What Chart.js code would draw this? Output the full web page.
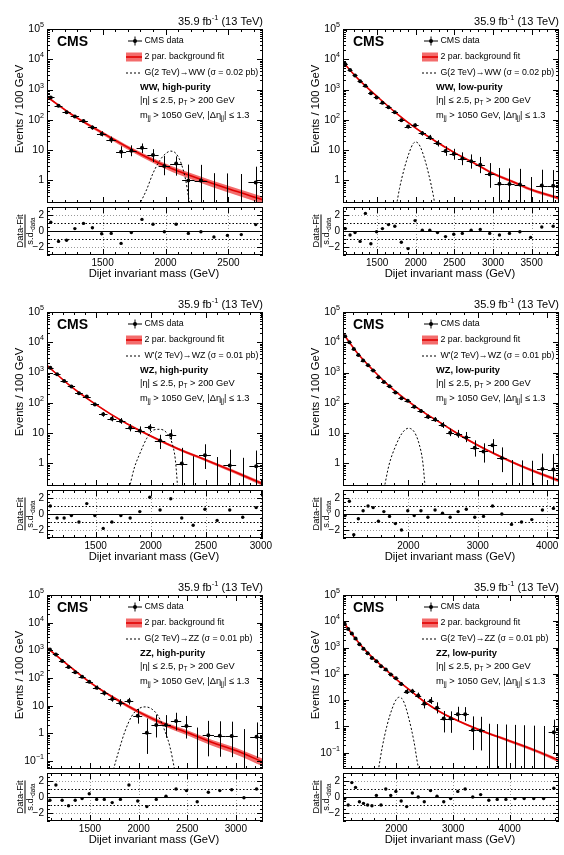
<!DOCTYPE html>
<html>
<head>
<meta charset="utf-8">
<script src="https://cdn.jsdelivr.net/npm/chart.js@4.4.1/dist/chart.umd.min.js"></script>
<style>
  html, body { margin: 0; padding: 0; background: #fff; }
  #page { position: relative; width: 564px; height: 855px; overflow: hidden; background: #fff; }
  #page canvas { position: absolute; }
</style>
</head>
<body>
<div id="page"></div>
<script>
// --- DATA (dijet bins, events / 100 GeV) ---
const binEdges = [1058, 1118, 1181, 1246, 1313, 1383, 1455, 1530, 1607, 1687, 1770, 1856, 1945, 2037, 2132, 2231,
  2332, 2438, 2546, 2659, 2775, 2895, 3019, 3147, 3279, 3416, 3558, 3704, 3854, 4010, 4171, 4337, 4509, 4686, 4869];

// WW, high-purity
const wwhpData = [550, 290, 177, 130, 91, 56, 34, 22, 8.8, 9.5, 12, 6.9, 3.0, 3.6, 1.0, 0.99, 0, 0, 0, 0.86];
const wwhpResid = [1.1, -1.3, -1.15, 0.3, 0.95, 0.4, -0.35, -0.3, -1.55, -0.2, 1.45, 0.85, -0.1, 0.85, -0.3, -0.1, -0.75, -0.55, -0.45, 0.8];
const wwhpFitX = [1058, 1250, 1500, 1750, 2000, 2250, 2500, 2775];
const wwhpFitY = [580, 155, 37, 9.6, 3.0, 1.2, 0.53, 0.23];
const wwhpUnc = [0.08, 0.08, 0.12, 0.16, 0.2, 0.23, 0.25, 0.27];
const wwhpSigX = [1790, 1850, 1900, 1955, 2000, 2040, 2085, 2125, 2160, 2182, 2200];
const wwhpSigY = [0.15, 0.5, 1.7, 4.6, 7.6, 9.3, 7.6, 3.6, 1.05, 0.3, 0.1];

// WW, low-purity
const wwlpData = [6800, 4470, 2940, 1870, 1350, 750, 550, 370, 262, 180, 98, 60, 67, 36, 26, 17, 9.4, 7.4, 5.3, 4.3,
  3.3, 1.6, 0.78, 0.76, 0.73, 0, 0.68, 0.67];
const wwlpResid = [0.3, -0.5, -0.2, -1.3, 2.2, -1.6, -0.1, 0.3, 0.8, 0.6, -1.4, -2.2, 1.3, 0.1, 0.1, -0.2, -0.7, -0.4, -0.3, 0.1,
  0.2, -0.3, -0.5, -0.3, -0.1, -0.8, 0.5, 0.6];
const wwlpFitX = [1058, 1250, 1500, 1750, 2000, 2250, 2500, 2750, 3000, 3250, 3500, 3854];
const wwlpFitY = [8100, 2300, 590, 165, 53, 20, 8.3, 3.8, 1.7, 0.92, 0.49, 0.26];
const wwlpUnc = [0.03, 0.03, 0.03, 0.04, 0.05, 0.06, 0.07, 0.08, 0.09, 0.1, 0.11, 0.13];
const wwlpSigX = [1750, 1790, 1850, 1915, 1970, 2005, 2055, 2115, 2170, 2225, 2255];
const wwlpSigY = [0.15, 0.55, 2.4, 8.3, 17, 18.5, 13.5, 5.1, 1.5, 0.34, 0.12];

// WZ, high-purity
const wzhpData = [1450, 880, 530, 350, 208, 162, 89, 42, 30, 25, 15, 12, 15.5, 5.7, 8.7, 0.99, 0, 1.85, 0, 0.86, 0, 0.81];
const wzhpResid = [1.0, -0.5, -0.5, -0.2, -1.0, 1.3, -0.2, -1.8, -1.0, -0.2, -0.5, 0.3, 2.1, 0.5, 1.9, -0.5, -1.4, 0.6, -0.8, 0.5, -0.4, 0.8];
const wzhpFitX = [1058, 1250, 1500, 1750, 2000, 2250, 2500, 2750, 3019];
const wzhpFitY = [1730, 415, 89, 24, 8.0, 3.0, 1.3, 0.55, 0.21];
const wzhpUnc = [0.04, 0.04, 0.05, 0.06, 0.08, 0.09, 0.1, 0.12, 0.14];
const wzhpSigX = [1805, 1850, 1903, 1964, 2025, 2086, 2147, 2193, 2223, 2245];
const wzhpSigY = [0.15, 0.7, 2.2, 6.8, 12.7, 13.4, 10, 4.7, 1.35, 0.15];

// WZ, low-purity
const wzlpData = [15800, 10000, 6000, 3800, 2500, 1740, 1180, 700, 490, 355, 222, 143, 118, 74, 54, 35, 28, 18.5, 10.3, 9.1,
  7.2, 3.3, 2.5, 4.0, 1.5, 0, 0, 0, 0.65, 0.63];
const wzlpResid = [-0.2, 1.6, -2.6, -0.6, 0.4, 1.0, 0.8, -0.9, 0.3, -0.3, -1.2, -2.0, 0.4, -0.2, 0.4, -0.4, 0.5, 0.1, -0.4, 0.3,
  0.6, -0.4, -0.3, 1.0, 0.0, -1.3, -1.0, -0.7, 0.5, 0.7];
const wzlpFitX = [1058, 1250, 1500, 1750, 2000, 2250, 2500, 2750, 3000, 3250, 3500, 3750, 4171];
const wzlpFitY = [20000, 4900, 1150, 320, 112, 44, 19.5, 8.4, 4.0, 2.04, 1.1, 0.63, 0.27];
const wzlpUnc = [0.02, 0.02, 0.03, 0.03, 0.04, 0.05, 0.06, 0.07, 0.08, 0.09, 0.1, 0.11, 0.13];
const wzlpSigX = [1651, 1720, 1815, 1910, 2000, 2080, 2150, 2208, 2243];
const wzlpSigY = [0.15, 0.87, 3.7, 10, 14.5, 11.4, 4.8, 1.1, 0.15];

// ZZ, high-purity
const zzhpData = [1070, 710, 410, 250, 163, 112, 74, 45, 29, 17.5, 12.6, 15, 4.4, 1.05, 2.0, 2.0, 2.8, 1.85, 0, 0.86,
  0.83, 0.81, 0, 0.76];
const zzhpResid = [-0.4, 1.5, -0.4, -1.1, -0.4, -0.2, 0.4, -0.3, -0.3, -0.7, -0.3, 1.5, -0.5, -1.2, -0.3, 0.1, 1.0, 0.8, -0.6, 0.6,
  0.8, 0.9, -0.1, 1.0];
const zzhpFitX = [1058, 1250, 1500, 1750, 2000, 2250, 2500, 2750, 3000, 3279];
const zzhpFitY = [1250, 345, 70, 19, 6.0, 2.3, 1.08, 0.48, 0.24, 0.093];
const zzhpUnc = [0.06, 0.06, 0.08, 0.11, 0.14, 0.18, 0.21, 0.24, 0.27, 0.3];
const zzhpSigX = [1741, 1792, 1860, 1929, 1997, 2066, 2134, 2202, 2271, 2323, 2370];
const zzhpSigY = [0.05, 0.21, 1.2, 4.2, 7.7, 9.1, 7.7, 4.2, 1.2, 0.32, 0.05];

// ZZ, low-purity
const zzlpData = [7900, 5100, 3400, 2200, 1350, 910, 610, 400, 300, 195, 146, 95, 68, 41, 21, 22, 15, 7.3, 9.3, 5.1,
  2.0, 2.0, 2.9, 2.9, 0.73, 0.7, 0, 0, 0, 0, 0, 0, 0, 0.6];
const zzlpResid = [-0.2, -1.0, 1.8, 1.2, -0.6, -0.8, -1.0, -1.1, 0.2, -1.0, 1.0, 0.2, 0.7, -0.5, -1.2, 0.5, 0.0, -0.6, 0.8, 0.1,
  -0.6, -0.2, 0.7, 1.0, 0.0, 0.3, -0.4, -0.3, -0.3, -0.2, -0.2, -0.2, -0.2, 1.1];
const zzlpFitX = [1058, 1250, 1500, 1750, 2000, 2250, 2500, 2750, 3000, 3500, 4000, 4500, 4869];
const zzlpFitY = [10000, 2600, 615, 195, 62, 23, 8.5, 3.8, 2.0, 0.69, 0.28, 0.11, 0.05];
const zzlpUnc = [0.02, 0.02, 0.03, 0.03, 0.04, 0.05, 0.06, 0.07, 0.08, 0.1, 0.12, 0.14, 0.16];
const zzlpSigX = [1679, 1750, 1838, 1926, 1997, 2056, 2132, 2220, 2308, 2384, 2424];
const zzlpSigY = [0.02, 0.16, 1.15, 4.8, 10.6, 13, 8.5, 2.0, 0.28, 0.03, 0.015];

const panels = [
  { col: 0, row: 0, cat: 'WW, high-purity', sig: 'G(2 TeV)\u2192WW (\u03c3 = 0.02 pb)', data: wwhpData, resid: wwhpResid,
    fitX: wwhpFitX, fitY: wwhpFitY, unc: wwhpUnc, sigX: wwhpSigX, sigY: wwhpSigY, xMax: 2775, yMin: 0.18, xLabels: [1500, 2000, 2500], xMinor: 100 },
  { col: 1, row: 0, cat: 'WW, low-purity', sig: 'G(2 TeV)\u2192WW (\u03c3 = 0.02 pb)', data: wwlpData, resid: wwlpResid,
    fitX: wwlpFitX, fitY: wwlpFitY, unc: wwlpUnc, sigX: wwlpSigX, sigY: wwlpSigY, xMax: 3854, yMin: 0.18, xLabels: [1500, 2000, 2500, 3000, 3500], xMinor: 100 },
  { col: 0, row: 1, cat: 'WZ, high-purity', sig: "W'(2 TeV)\u2192WZ (\u03c3 = 0.01 pb)", data: wzhpData, resid: wzhpResid,
    fitX: wzhpFitX, fitY: wzhpFitY, unc: wzhpUnc, sigX: wzhpSigX, sigY: wzhpSigY, xMax: 3019, yMin: 0.18, xLabels: [1500, 2000, 2500, 3000], xMinor: 100 },
  { col: 1, row: 1, cat: 'WZ, low-purity', sig: "W'(2 TeV)\u2192WZ (\u03c3 = 0.01 pb)", data: wzlpData, resid: wzlpResid,
    fitX: wzlpFitX, fitY: wzlpFitY, unc: wzlpUnc, sigX: wzlpSigX, sigY: wzlpSigY, xMax: 4171, yMin: 0.18, xLabels: [2000, 3000, 4000], xMinor: 200 },
  { col: 0, row: 2, cat: 'ZZ, high-purity', sig: 'G(2 TeV)\u2192ZZ (\u03c3 = 0.01 pb)', data: zzhpData, resid: zzhpResid,
    fitX: zzhpFitX, fitY: zzhpFitY, unc: zzhpUnc, sigX: zzhpSigX, sigY: zzhpSigY, xMax: 3279, yMin: 0.052, xLabels: [1500, 2000, 2500, 3000], xMinor: 100 },
  { col: 1, row: 2, cat: 'ZZ, low-purity', sig: 'G(2 TeV)\u2192ZZ (\u03c3 = 0.01 pb)', data: zzlpData, resid: zzlpResid,
    fitX: zzlpFitX, fitY: zzlpFitY, unc: zzlpUnc, sigX: zzlpSigX, sigY: zzlpSigY, xMax: 4869, yMin: 0.024, xLabels: [2000, 3000, 4000], xMinor: 200 }
];

// --- LAYOUT / STYLE ---
const FONT = '"Liberation Sans", Arial, Helvetica, sans-serif';
const COL_L = [47, 343], COL_R = [263, 559], ROW_T = [29, 312, 595];
const MAIN_H = 178, RES_H = 48, AXIS_W = 45, PAD_TOP = 22, PAD_R = 12, XAX_H = 30, RES_PAD = 12;
const FIT_RED = 'rgb(225, 0, 0)';
const BAND_RED = 'rgb(243, 108, 108)';

Chart.defaults.font.family = FONT;
Chart.defaults.color = '#000';

const page = document.getElementById('page');

// Garwood 68% intervals for small counts
const GW_LO = [0, 0.173, 0.708, 1.367, 2.086, 2.840, 3.620, 4.419, 5.232, 6.057, 6.891];
const GW_HI = [1.841, 3.300, 4.638, 5.918, 7.163, 8.382, 9.584, 10.77, 11.95, 13.11, 14.27];
function poissonBand(n) {
  if (n <= 10) return [GW_LO[n], GW_HI[n]];
  const s = Math.sqrt(n + 0.25);
  return [n + 0.5 - s, n + 0.5 + s];
}

function fnt(size, bold) { return (bold ? 'bold ' : '') + size + 'px ' + FONT; }

// text pieces: [text, ''|'sub'|'sup']
function richWidth(ctx, parts, size, bold) {
  let w = 0;
  for (const [t, m] of parts) {
    ctx.font = fnt(m ? size * 0.68 : size, bold);
    w += ctx.measureText(t).width;
  }
  return w;
}
function drawRich(ctx, x, y, parts, size, bold) {
  ctx.textAlign = 'left';
  ctx.textBaseline = 'middle';
  let cx = x;
  for (const [t, m] of parts) {
    ctx.font = fnt(m ? size * 0.68 : size, bold);
    const dy = m === 'sub' ? size * 0.3 : (m === 'sup' ? -size * 0.36 : 0);
    ctx.fillText(t, cx, y + dy);
    cx += ctx.measureText(t).width;
  }
}

function line(ctx, x0, y0, x1, y1) {
  ctx.beginPath(); ctx.moveTo(x0, y0); ctx.lineTo(x1, y1); ctx.stroke();
}

function drawXTicks(ctx, a, xs, p, long, short) {
  const start = Math.ceil(binEdges[0] / p.xMinor) * p.xMinor;
  const majorStep = p.xMinor * 5;
  for (let v = start; v <= p.xMax; v += p.xMinor) {
    const len = v % majorStep === 0 ? long : short;
    const px = Math.round(xs.getPixelForValue(v)) + 0.5;
    line(ctx, px, a.bottom, px, a.bottom - len);
    line(ctx, px, a.top, px, a.top + len);
  }
}

function makeCanvas(left, top, w, h) {
  const c = document.createElement('canvas');
  c.width = w; c.height = h;
  c.style.left = left + 'px'; c.style.top = top + 'px';
  c.style.width = w + 'px'; c.style.height = h + 'px';
  page.appendChild(c);
  return c;
}

// --- MAIN PAD DECORATION ---
function mainDeco(p) {
  return {
    id: 'mainDeco',
    afterDatasetsDraw(chart) {
      const { ctx, chartArea: a } = chart;
      const xs = chart.scales.x, ys = chart.scales.y;
      ctx.save();
      ctx.beginPath(); ctx.rect(a.left, a.top, a.right - a.left, a.bottom - a.top); ctx.clip();
      ctx.strokeStyle = '#000'; ctx.lineWidth = 1;
      p.data.forEach((v, i) => {
        const x0 = binEdges[i], x1 = binEdges[i + 1], w = x1 - x0;
        const n = Math.round(v * w / 100);
        const [lo, hi] = poissonBand(n);
        const px = Math.round(xs.getPixelForValue((x0 + x1) / 2)) + 0.5;
        const pHi = ys.getPixelForValue(hi * 100 / w);
        const pLo = lo > 0 ? Math.min(ys.getPixelForValue(lo * 100 / w), a.bottom) : a.bottom;
        line(ctx, px, pLo, px, pHi);
        if (v > 0) {
          const py = Math.round(ys.getPixelForValue(v)) + 0.5;
          line(ctx, xs.getPixelForValue(x0), py, xs.getPixelForValue(x1), py);
        }
      });
      ctx.restore();
    },
    afterDraw(chart) {
      const { ctx, chartArea: a } = chart;
      const xs = chart.scales.x, ys = chart.scales.y;
      const L = a.left, R = a.right, T = a.top, B = a.bottom;
      ctx.save();
      ctx.strokeStyle = '#000'; ctx.fillStyle = '#000'; ctx.lineWidth = 1;
      ctx.strokeRect(L + 0.5, T + 0.5, R - L - 1, B - T - 1);
      drawXTicks(ctx, a, xs, p, 6, 3);

      // log y ticks and labels
      const eMin = Math.floor(Math.log10(p.yMin));
      for (let e = eMin; e <= 5; e++) {
        for (let m = 1; m <= 9; m++) {
          const v = m * Math.pow(10, e);
          if (v < p.yMin || v > 1e5 * 1.0001) continue;
          const py = Math.round(ys.getPixelForValue(v)) + 0.5;
          const len = m === 1 ? 6 : 3;
          line(ctx, L, py, L + len, py);
          line(ctx, R, py, R - len, py);
          if (m === 1) {
            let parts;
            if (e === 0) parts = [['1', '']];
            else if (e === 1) parts = [['10', '']];
            else parts = [['10', ''], [String(e).replace('-', '\u2212'), 'sup']];
            const w = richWidth(ctx, parts, 10.5, false);
            drawRich(ctx, L - 3 - w, ys.getPixelForValue(v), parts, 10.5, false);
          }
        }
      }

      // y title
      ctx.save();
      ctx.translate(L - 27, (T + B) / 2 - 7);
      ctx.rotate(-Math.PI / 2);
      ctx.font = fnt(11.3, false); ctx.textAlign = 'center'; ctx.textBaseline = 'middle';
      ctx.fillText('Events / 100 GeV', 0, 0);
      ctx.restore();

      // lumi label
      const lumi = [['35.9 fb', ''], ['-1', 'sup'], [' (13 TeV)', '']];
      drawRich(ctx, R - richWidth(ctx, lumi, 11, false), T - 7.5, lumi, 11, false);

      // CMS
      ctx.font = fnt(14, true); ctx.textAlign = 'left'; ctx.textBaseline = 'middle';
      ctx.fillText('CMS', L + 10, T + 13);

      // legend
      const tx = R - 118.5;
      let y = T + 12;
      line(ctx, R - 135, y, R - 121, y);
      line(ctx, R - 128, y - 4.5, R - 128, y + 4.5);
      ctx.beginPath(); ctx.arc(R - 128, y, 2, 0, Math.PI * 2); ctx.fill();
      drawRich(ctx, tx, y, [['CMS data', '']], 8.8, false);

      y = T + 28;
      ctx.fillStyle = BAND_RED;
      ctx.fillRect(R - 137, y - 4.5, 16, 9);
      ctx.strokeStyle = FIT_RED; ctx.lineWidth = 1.6;
      line(ctx, R - 137, y, R - 121, y);
      ctx.fillStyle = '#000'; ctx.strokeStyle = '#000'; ctx.lineWidth = 1;
      drawRich(ctx, tx, y, [['2 par. background fit', '']], 8.8, false);

      y = T + 43.5;
      ctx.setLineDash([2, 2]);
      line(ctx, R - 137, y + 0.5, R - 121, y + 0.5);
      ctx.setLineDash([]);
      drawRich(ctx, tx, y, [[p.sig, '']], 8.8, false);

      drawRich(ctx, R - 123, T + 58, [[p.cat, '']], 9.3, true);
      drawRich(ctx, R - 123, T + 71.5, [['|\u03b7| \u2264 2.5, p', ''], ['T', 'sub'], [' > 200 GeV', '']], 9.3, false);
      drawRich(ctx, R - 123, T + 86, [['m', ''], ['jj', 'sub'], [' > 1050 GeV, |\u0394\u03b7', ''], ['jj', 'sub'], ['| \u2264 1.3', '']], 9.3, false);
      ctx.restore();
    }
  };
}

// --- RESIDUAL PAD DECORATION ---
function residDeco(p) {
  return {
    id: 'residDeco',
    beforeDatasetsDraw(chart) {
      const { ctx, chartArea: a } = chart;
      const xs = chart.scales.x, ys = chart.scales.y;
      ctx.save();
      ctx.lineWidth = 1;
      ctx.strokeStyle = '#999'; ctx.setLineDash([1, 2]);
      p.xLabels.forEach(v => {
        const px = Math.round(xs.getPixelForValue(v)) + 0.5;
        line(ctx, px, a.top, px, a.bottom);
      });
      [2, -2].forEach(v => {
        const py = Math.round(ys.getPixelForValue(v)) + 0.5;
        line(ctx, a.left, py, a.right, py);
      });
      ctx.strokeStyle = '#000'; ctx.setLineDash([1.5, 2]);
      [1, -1].forEach(v => {
        const py = Math.round(ys.getPixelForValue(v)) + 0.5;
        line(ctx, a.left, py, a.right, py);
      });
      ctx.setLineDash([]);
      const p0 = Math.round(ys.getPixelForValue(0)) + 0.5;
      line(ctx, a.left, p0, a.right, p0);
      ctx.restore();
    },
    afterDraw(chart) {
      const { ctx, chartArea: a } = chart;
      const xs = chart.scales.x, ys = chart.scales.y;
      const L = a.left, R = a.right, T = a.top, B = a.bottom;
      ctx.save();
      ctx.strokeStyle = '#000'; ctx.fillStyle = '#000'; ctx.lineWidth = 1;
      ctx.strokeRect(L + 0.5, T + 0.5, R - L - 1, B - T - 1);
      drawXTicks(ctx, a, xs, p, 6, 3);
      for (let v = -3; v <= 3; v += 0.5) {
        const py = Math.round(ys.getPixelForValue(v)) + 0.5;
        const len = (v === -2 || v === 0 || v === 2) ? 6 : 3;
        line(ctx, L, py, L + len, py);
        line(ctx, R, py, R - len, py);
      }

      // x title
      ctx.font = fnt(11.2, false); ctx.textAlign = 'center'; ctx.textBaseline = 'middle';
      ctx.fillText('Dijet invariant mass (GeV)', (L + R) / 2 - 1, B + 19);

      // y title: (Data-Fit) / s.d._data
      ctx.save();
      ctx.translate(L - 21.5, (T + B) / 2);
      ctx.rotate(-Math.PI / 2);
      const num = [['Data-Fit', '']];
      const den = [['s.d.', ''], ['data', 'sub']];
      const wn = richWidth(ctx, num, 9.3, false), wd = richWidth(ctx, den, 9.3, false);
      drawRich(ctx, -wn / 2, -5, num, 9.3, false);
      drawRich(ctx, -wd / 2, 4.5, den, 9.3, false);
      const wl = Math.max(wn, wd) / 2;
      line(ctx, -wl, -0.5, wl, -0.5);
      ctx.restore();
      ctx.restore();
    }
  };
}

// --- CHARTS ---
function mainChart(p) {
  const L = COL_L[p.col], R = COL_R[p.col], T = ROW_T[p.row];
  const cv = makeCanvas(L - AXIS_W, T - PAD_TOP, AXIS_W + (R - L) + PAD_R, PAD_TOP + MAIN_H);
  const pts = [];
  p.data.forEach((v, i) => { if (v > 0) pts.push({ x: (binEdges[i] + binEdges[i + 1]) / 2, y: v }); });
  const fit = p.fitX.map((x, k) => ({ x, y: p.fitY[k] }));
  const hi = p.fitX.map((x, k) => ({ x, y: p.fitY[k] * (1 + p.unc[k]) }));
  const lo = p.fitX.map((x, k) => ({ x, y: p.fitY[k] * (1 - p.unc[k]) }));
  const sig = p.sigX.map((x, k) => ({ x, y: p.sigY[k] }));
  return new Chart(cv, {
    type: 'scatter',
    data: {
      datasets: [
        { data: pts, pointRadius: 2, pointBackgroundColor: '#000', pointBorderWidth: 0, showLine: false },
        { data: sig, showLine: true, borderColor: '#000', borderWidth: 1, borderDash: [2, 2], pointRadius: 0, cubicInterpolationMode: 'monotone' },
        { data: fit, showLine: true, borderColor: FIT_RED, borderWidth: 1.6, pointRadius: 0, cubicInterpolationMode: 'monotone' },
        { data: hi, showLine: true, borderColor: 'rgba(0,0,0,0)', backgroundColor: BAND_RED, fill: '+1', pointRadius: 0, cubicInterpolationMode: 'monotone' },
        { data: lo, showLine: true, borderColor: 'rgba(0,0,0,0)', fill: false, pointRadius: 0, cubicInterpolationMode: 'monotone' }
      ]
    },
    options: {
      responsive: false, animation: false, events: [],
      layout: { padding: { left: 0, top: PAD_TOP, right: PAD_R, bottom: 0 } },
      plugins: { legend: { display: false }, tooltip: { enabled: false } },
      scales: {
        x: { type: 'linear', min: binEdges[0], max: p.xMax, display: false },
        y: {
          type: 'logarithmic', min: p.yMin, max: 1e5,
          grid: { display: false, drawTicks: false }, border: { display: false },
          ticks: { display: false },
          afterFit: s => { s.width = AXIS_W; }
        }
      }
    },
    plugins: [mainDeco(p)]
  });
}

function residChart(p) {
  const L = COL_L[p.col], R = COL_R[p.col], T = ROW_T[p.row] + MAIN_H;
  // canvas starts RES_PAD above the pad so the top tick label has room
  const cv = makeCanvas(L - AXIS_W, T - RES_PAD, AXIS_W + (R - L) + PAD_R, RES_PAD + RES_H + XAX_H);
  const pts = p.resid.map((r, i) => ({ x: (binEdges[i] + binEdges[i + 1]) / 2, y: r }));
  return new Chart(cv, {
    type: 'scatter',
    data: { datasets: [{ data: pts, pointRadius: 1.7, pointBackgroundColor: '#000', pointBorderWidth: 0 }] },
    options: {
      responsive: false, animation: false, events: [],
      layout: { padding: { left: 0, top: RES_PAD, right: PAD_R, bottom: 0 } },
      plugins: { legend: { display: false }, tooltip: { enabled: false } },
      scales: {
        x: {
          type: 'linear', min: binEdges[0], max: p.xMax,
          grid: { display: false, drawTicks: false }, border: { display: false },
          ticks: { font: { size: 10 }, color: '#000', padding: 2, autoSkip: false, maxRotation: 0, callback: v => String(v) },
          afterBuildTicks: s => { s.ticks = p.xLabels.map(v => ({ value: v })); },
          afterFit: s => { s.height = XAX_H; }
        },
        y: {
          type: 'linear', min: -3, max: 3,
          grid: { display: false, drawTicks: false }, border: { display: false },
          ticks: { font: { size: 10 }, color: '#000', padding: 3, autoSkip: false, callback: v => v < 0 ? '\u2212' + (-v) : String(v) },
          afterBuildTicks: s => { s.ticks = [-2, 0, 2].map(v => ({ value: v })); },
          afterFit: s => { s.width = AXIS_W; }
        }
      }
    },
    plugins: [residDeco(p)]
  });
}

panels.forEach(p => {
  mainChart(p);
  residChart(p);
});
</script>
</body>
</html>
